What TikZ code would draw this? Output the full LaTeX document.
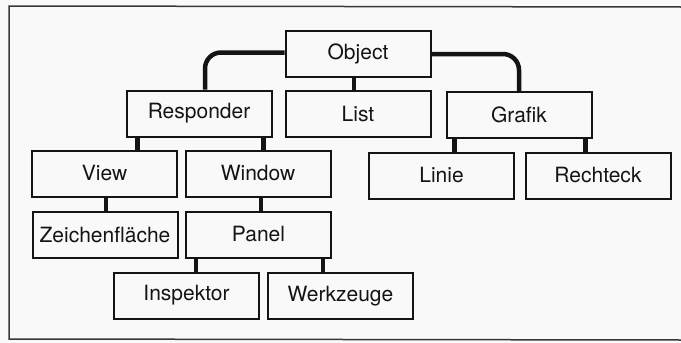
\documentclass[tikz,border=0pt]{standalone}
\usepackage{fontspec}
\setmainfont{TeX Gyre Heros}
\usetikzlibrary{calc}
\definecolor{ink}{gray}{0.08}
\definecolor{paper}{gray}{0.975}
\tikzset{
  cls/.style={draw=ink, line width=2pt, fill=paper, minimum width=145pt, minimum height=46pt,
    inner sep=0pt, font=\fontsize{21}{25}\selectfont, text=ink},
  conn/.style={draw=ink, line width=4.5pt},
  frame/.style={draw=ink!85, line width=1.5pt}
}
\begin{document}
\begin{tikzpicture}[x=1pt,y=-1pt]
\useasboundingbox[fill=paper] (0,0) rectangle (681,343);
\draw[frame] (681,7) -- (9,6) -- (9,339) -- (681,340);
% nodes
\node[cls] (obj) at (358,54) {Object};
\node[cls] (resp) at (199,113.5) {Responder};
\node[cls] (list) at (358,114) {List};
\node[cls] (graf) at (519,115) {Grafik};
\node[cls] (view) at (104.5,173.5) {View};
\node[cls] (win) at (258,173.5) {Window};
\node[cls] (linie) at (441.5,175.5) {Linie};
\node[cls] (recht) at (598,175.5) {Rechteck};
\node[cls] (zeich) at (105,234.5) {Zeichenfläche};
\node[cls] (panel) at (258.5,234.5) {Panel};
\node[cls] (insp) at (186.5,295.5) {Inspektor};
\node[cls] (werk) at (340.5,296) {Werkzeuge};
% connectors
\draw[conn, rounded corners=16pt] ([yshift=1.5pt]obj.west) -| ([xshift=6pt]resp.north);
\draw[conn, rounded corners=16pt] (obj.east) -| (graf.north);
\draw[conn] ([xshift=-4pt]obj.south) -- ([xshift=-4pt]obj.south |- list.north);
\draw[conn] ([xshift=12pt]resp.south west) -- ([xshift=12pt]resp.south west |- view.north);
\draw[conn] ([xshift=-9pt]resp.south east) -- ([xshift=-9pt]resp.south east |- win.north);
\draw[conn] ([xshift=9pt]graf.south west) -- ([xshift=9pt]graf.south west |- linie.north);
\draw[conn] ([xshift=-7pt]graf.south east) -- ([xshift=-7pt]graf.south east |- recht.north);
\draw[conn] ([xshift=1.5pt]view.south) -- ([xshift=1.5pt]view.south |- zeich.north);
\draw[conn] ([xshift=3pt]win.south) -- ([xshift=3pt]win.south |- panel.north);
\draw[conn] ([xshift=11pt]panel.south west) -- ([xshift=11pt]panel.south west |- insp.north);
\draw[conn] ([xshift=-9pt]panel.south east) -- ([xshift=-9pt]panel.south east |- werk.north);
\end{tikzpicture}
\end{document}
